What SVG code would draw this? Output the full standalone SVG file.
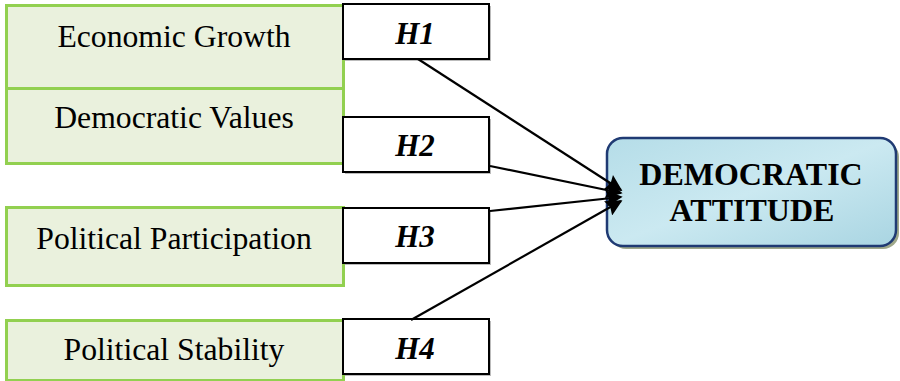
<svg xmlns="http://www.w3.org/2000/svg" width="900" height="381" viewBox="0 0 900 381">
<style>
.gbox{fill:#EAF1DD;stroke:#92D050;stroke-width:3}
.hbox{fill:#FFFFFF;stroke:#000000;stroke-width:2}
.lbl{font-family:"Liberation Serif","Times New Roman",serif;font-size:31.7px;fill:#000;text-anchor:middle}
.h{font-family:"Liberation Serif","Times New Roman",serif;font-size:31px;font-weight:bold;font-style:italic;fill:#000;text-anchor:middle}
.t{font-family:"Liberation Serif","Times New Roman",serif;font-size:32px;font-weight:bold;fill:#000;text-anchor:middle}
.conn{stroke:#000;stroke-width:2.2;fill:none;marker-end:url(#arr)}
</style>
<defs>
<marker id="arr" viewBox="0 0 10 10" refX="9" refY="5" markerWidth="8" markerHeight="7.5" orient="auto" markerUnits="strokeWidth">
<path d="M0,0 L10,5 L0,10 L1.5,5 Z" fill="#000"/>
</marker>
<linearGradient id="blue" x1="0" y1="0" x2="1" y2="1">
<stop offset="0" stop-color="#B5DDE8"/>
<stop offset="0.5" stop-color="#CBE9F1"/>
<stop offset="1" stop-color="#A9D5E2"/>
</linearGradient>
</defs>
<g id="economic-growth">
<rect class="gbox" x="6.5" y="5.5" width="337" height="83"/>
<text class="lbl" x="174" y="47">Economic Growth</text>
</g>
<g id="democratic-values">
<rect class="gbox" x="6.5" y="88.5" width="337" height="75"/>
<text class="lbl" x="174" y="128">Democratic Values</text>
</g>
<g id="political-participation">
<rect class="gbox" x="6.5" y="207.5" width="337" height="78"/>
<text class="lbl" x="174" y="249">Political Participation</text>
</g>
<g id="political-stability">
<rect class="gbox" x="6.5" y="320.5" width="337" height="60"/>
<text class="lbl" x="174" y="360">Political Stability</text>
</g>
<g id="h1">
<rect x="345" y="6" width="146" height="55" fill="#bbb"/>
<rect class="hbox" x="343" y="4" width="146" height="55"/>
<text class="h" x="415" y="44">H1</text>
</g>
<g id="h2">
<rect x="345" y="119" width="146" height="55" fill="#bbb"/>
<rect class="hbox" x="343" y="117" width="146" height="55"/>
<text class="h" x="415" y="156">H2</text>
</g>
<g id="h3">
<rect x="345" y="210" width="146" height="55" fill="#bbb"/>
<rect class="hbox" x="343" y="208" width="146" height="55"/>
<text class="h" x="415" y="247">H3</text>
</g>
<g id="h4">
<rect x="345" y="321" width="146" height="55" fill="#bbb"/>
<rect class="hbox" x="343" y="319" width="146" height="55"/>
<text class="h" x="415" y="359">H4</text>
</g>
<g id="democratic-attitude">
<rect x="610" y="141" width="289" height="108" rx="16" fill="#9FA88A"/>
<rect x="607" y="138" width="289" height="108" rx="16" fill="url(#blue)" stroke="#1F3A73" stroke-width="2.5"/>
<text class="t" x="751" y="185">DEMOCRATIC</text>
<text class="t" x="752" y="221">ATTITUDE</text>
</g>
<g id="connectors">
<line class="conn" x1="418" y1="59" x2="621" y2="190"/>
<line class="conn" x1="490" y1="166" x2="621" y2="193"/>
<line class="conn" x1="490" y1="211" x2="621" y2="197"/>
<line class="conn" x1="411" y1="320" x2="621" y2="201"/>
</g>
</svg>
